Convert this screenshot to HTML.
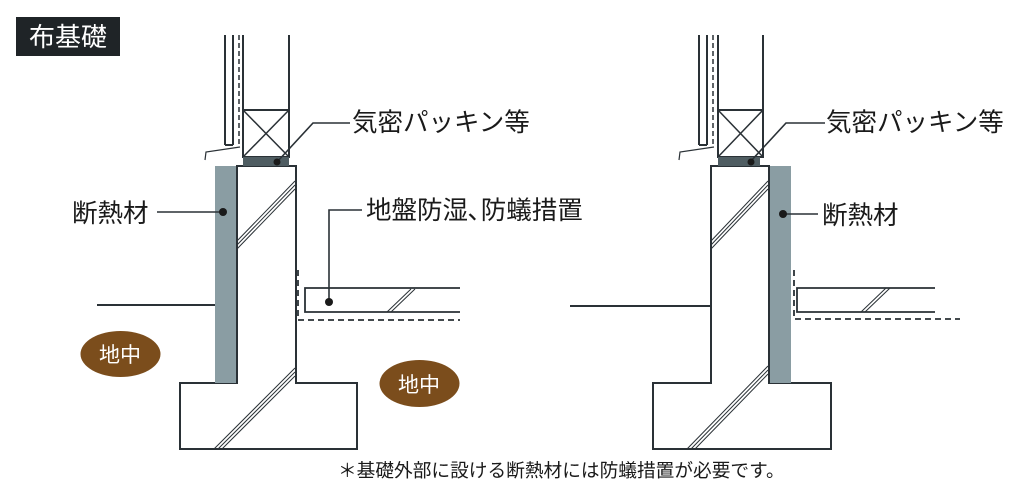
<!DOCTYPE html>
<html><head><meta charset="utf-8"><style>
html,body{margin:0;padding:0;background:#fff;}
svg{display:block;}
text{font-family:"Liberation Sans","Noto Sans CJK JP",sans-serif;}
</style></head><body>
<svg width="1024" height="499" viewBox="0 0 1024 499" xmlns="http://www.w3.org/2000/svg">
<rect x="16" y="17" width="104" height="39" fill="#1f2427"/>
<text x="68" y="46" font-size="26" fill="#fff" text-anchor="middle">布基礎</text>

<g stroke="#2a3136" stroke-width="2" fill="none">
<line x1="225" y1="35" x2="225" y2="145"/><line x1="233" y1="35" x2="233" y2="145"/><line x1="225" y1="145" x2="233" y2="145"/>
<line x1="239" y1="35" x2="239" y2="145" stroke-dasharray="5,3" stroke-width="1.5"/>
<line x1="243" y1="35" x2="243" y2="157"/><line x1="289" y1="35" x2="289" y2="157"/>
<rect x="243" y="110" width="46" height="47"/>
<line x1="243" y1="110" x2="289" y2="157" stroke-width="1.5"/><line x1="289" y1="110" x2="243" y2="157" stroke-width="1.5"/>
<polyline points="205,160 206,152 240,147" stroke-width="1.2"/>
<polygon points="237,166 296,166 296,383 357,383 357,449 180,449 180,383 237,383"/>
<line x1="97" y1="305" x2="215" y2="305"/>
<polyline points="460,288 305,288 305,312 460,312" stroke-width="1.8"/>
<polyline points="298,270 298,320 460,320" stroke-dasharray="6,4" stroke-width="1.8"/>
<line x1="699" y1="35" x2="699" y2="145"/><line x1="707" y1="35" x2="707" y2="145"/><line x1="699" y1="145" x2="707" y2="145"/>
<line x1="713" y1="35" x2="713" y2="145" stroke-dasharray="5,3" stroke-width="1.5"/>
<line x1="718" y1="35" x2="718" y2="157"/><line x1="763" y1="35" x2="763" y2="157"/>
<rect x="718" y="110" width="45" height="47"/>
<line x1="718" y1="110" x2="763" y2="157" stroke-width="1.5"/><line x1="763" y1="110" x2="718" y2="157" stroke-width="1.5"/>
<polyline points="679,160 680,152 714,147" stroke-width="1.2"/>
<polygon points="711,166 769,166 769,383 831,383 831,449 653,449 653,383 711,383"/>
<line x1="570" y1="306" x2="711" y2="306"/>
<polyline points="935,288 797,288 797,312 935,312" stroke-width="1.8"/>
<polyline points="794,270 794,319 960,319" stroke-dasharray="6,4" stroke-width="1.8"/>
</g>
<rect x="215" y="166" width="22" height="217" fill="#8a9da3"/>
<line x1="237" y1="166" x2="237" y2="383" stroke="#2a3136" stroke-width="2"/>
<rect x="243" y="157" width="46" height="9" fill="#4f5d62"/>
<rect x="770" y="166" width="21" height="217" fill="#8a9da3"/>
<rect x="718" y="157" width="42" height="9" fill="#4f5d62"/>
<g stroke="#2a3136" stroke-width="1">
<line x1="295" y1="181" x2="237" y2="241"/><line x1="295" y1="185" x2="237" y2="245"/><line x1="295" y1="189" x2="237" y2="249"/>
<line x1="295" y1="368" x2="214" y2="449"/><line x1="295" y1="372" x2="218" y2="449"/><line x1="295" y1="376" x2="222" y2="449"/>
<line x1="411" y1="289" x2="387" y2="312"/><line x1="415" y1="289" x2="391" y2="312"/>
<line x1="768" y1="181" x2="711" y2="241"/><line x1="768" y1="185" x2="711" y2="245"/><line x1="768" y1="189" x2="711" y2="249"/>
<line x1="768" y1="366" x2="687" y2="449"/><line x1="768" y1="370" x2="691" y2="449"/><line x1="768" y1="374" x2="695" y2="449"/>
<line x1="886" y1="288" x2="861" y2="312"/><line x1="890" y1="288" x2="865" y2="312"/>
</g>
<g stroke="#2a3136" stroke-width="1.6" fill="none">
<polyline points="277,162 313,123 350,123"/>
<line x1="157" y1="212" x2="223" y2="212"/>
<polyline points="329,302 329,210 362,210"/>
<polyline points="750,162 786,123 825,123"/>
<line x1="783" y1="214" x2="818" y2="214"/>
</g>
<g fill="#1a1a1a">
<circle cx="277" cy="162" r="3.5"/><circle cx="223" cy="212" r="4"/><circle cx="329" cy="302" r="4"/>
<circle cx="751" cy="162" r="3.5"/><circle cx="783" cy="214" r="4"/>
</g>
<g fill="#1a1a1a" font-size="25.5">
<text x="352" y="131">気密パッキン等</text>
<text x="826" y="131">気密パッキン等</text>
<text x="72" y="222">断熱材</text>
<text x="822" y="224">断熱材</text>
<text x="366" y="219">地盤防湿､防蟻措置</text>
</g>
<ellipse cx="120.5" cy="354" rx="40" ry="23" fill="#7b4d1c"/>
<ellipse cx="419.5" cy="383.5" rx="40" ry="23.5" fill="#7b4d1c"/>
<text x="120" y="362" font-size="21" fill="#fff" text-anchor="middle">地中</text>
<text x="419" y="392" font-size="21" fill="#fff" text-anchor="middle">地中</text>
<text x="338" y="477" font-size="18.7" fill="#1a1a1a">＊基礎外部に設ける断熱材には防蟻措置が必要です。</text>
</svg>
</body></html>
